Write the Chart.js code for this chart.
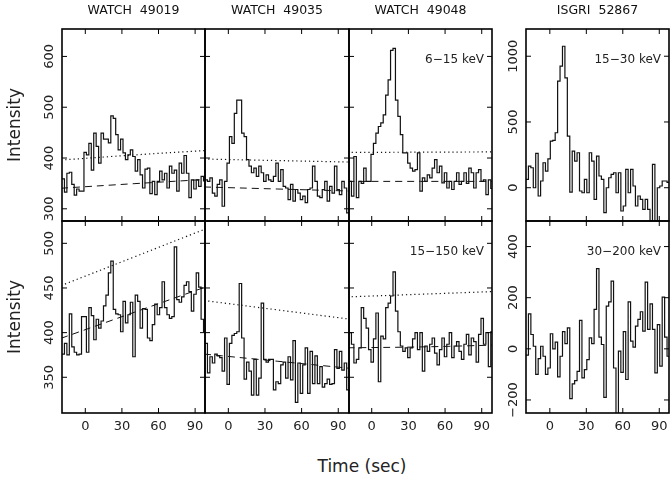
<!DOCTYPE html>
<html>
<head>
<meta charset="utf-8">
<script src="https://cdn.jsdelivr.net/npm/chart.js@4.4.0/dist/chart.umd.min.js"></script>
<style>
  html, body { margin: 0; padding: 0; background: #fff; }
  #page { position: relative; width: 670px; height: 483px; overflow: hidden; background: #fff; }
  .panel { position: absolute; }
  #xlabel { position: absolute; left: 262px; width: 200px; top: 456px; text-align: center;
            font: 17px "DejaVu Sans", sans-serif; color: #222; }
</style>
</head>
<body>
<div id="page">
  <div id="xlabel">Time (sec)</div>
</div>
<script>
/* light curves, 2 s bins */
const BIN = 2;

// 6-15 keV (WATCH) and 15-30 keV (ISGRI)
const w49019_lo = [359,333,370,372,348,327,339,335,335,411,406,429,376,449,423,390,449,437,437,430,
  483,478,446,416,437,410,397,406,416,403,374,397,367,341,378,380,330,354,328,354,
  374,357,370,341,384,370,376,335,390,370,405,370,322,357,339,357,344,364,355];
const w49035_lo = [357,354,361,331,325,348,357,305,354,390,442,429,488,514,514,449,442,397,384,371,
  380,364,384,371,354,367,357,354,364,390,354,377,344,341,318,348,315,338,331,318,
  325,312,338,341,384,354,325,322,338,354,315,344,331,384,338,328,354,341,292];
const w49048_lo = [354,325,403,322,354,350,380,354,354,407,429,449,462,469,485,524,554,612,616,514,
  482,446,410,410,390,380,374,377,410,335,361,354,367,361,380,397,371,384,351,371,
  341,354,338,354,371,348,354,371,350,380,371,341,371,377,354,357,328,357,340];
const isgri_lo = [63,165,152,0,261,-63,51,190,127,220,354,360,418,810,924,1076,835,392,-33,278,
  203,266,-25,-38,63,-38,266,203,-89,240,89,63,-190,0,76,101,114,-38,114,-177,
  -139,139,-38,139,13,-139,-63,-89,-165,-89,-165,-253,177,-253,0,13,51,51,40];

// 15-150 keV (WATCH) and 30-200 keV (ISGRI)
const w49019_hi = [376,388,375,421,384,378,375,376,418,418,378,428,419,392,415,405,413,430,442,467,
  480,426,421,420,401,435,411,420,434,373,442,435,405,427,426,394,391,409,432,420,
  428,457,428,420,416,418,496,437,434,440,453,457,446,424,443,467,451,415,401];
const w49035_hi = [388,355,373,366,376,374,372,357,394,342,388,397,399,401,455,394,348,367,357,330,
  370,330,349,433,370,367,370,370,336,345,343,364,367,349,373,347,391,322,366,332,
  364,383,332,379,343,374,343,362,339,343,348,342,343,381,360,379,358,366,336];
const w49048_hi = [400,387,366,370,383,428,416,405,381,367,393,422,345,396,393,428,433,441,468,424,
  401,385,379,383,372,383,393,400,381,400,357,385,379,387,394,377,364,381,394,373,
  387,400,372,385,390,379,370,387,398,375,394,390,367,398,416,387,400,362,401];
const isgri_hi = [-25,137,56,10,-100,-38,10,-29,-100,-75,59,0,26,-110,-29,67,20,82,-195,-137,
  -124,-88,111,-114,-81,-42,43,20,154,314,46,17,-190,167,184,265,-75,-270,-9,-92,
  67,-120,184,30,7,89,115,145,69,261,76,176,76,-94,95,-68,202,46,-29];

// background (dashed) and threshold (dotted) curves, sampled at curveT
const curveT = [-20, 40, 100];
const dash49019_lo = [340.5, 349.5, 358];
const dot49019_lo  = [396, 406, 415];
const dash49035_lo = [343, 339, 335];
const dot49035_lo  = [398, 395, 392];
const dash49048_lo = [354, 354, 354];
const dot49048_lo  = [411, 411.5, 412];
const dash49019_hi = [393.6, 422.7, 451.8];
const dot49019_hi  = [452.6, 484.7, 516.9];
const dash49035_hi = [376, 368, 360];
const dot49035_hi  = [436, 425.5, 415];
const dash49048_hi = [383, 384, 386];
const dot49048_hi  = [440, 443, 446];

const titles = ['WATCH  49019', 'WATCH  49035', 'WATCH  49048', 'ISGRI  52867'];
const bandTop = ['', '', '6\u221215 keV', '15\u221230 keV'];
const bandBottom = ['', '', '15\u2212150 keV', '30\u2212200 keV'];

// tick values
const xTicks = [0, 30, 60, 90];
const yTicksTop = [300, 400, 500, 600];
const yTicksBottom = [350, 400, 450, 500];
const yTicksIsgriTop = [0, 500, 1000];
const yTicksIsgriBottom = [-200, 0, 200, 400];

// axis ranges
const xMin = [-19.1, -19.1, -18.6, -19.6];
const xMax = [98.1, 98.8, 98.4, 98.0];
const yTop = [276, 654], yBottom = [310, 525];
const yIsgriTop = [-253, 1207], yIsgriBottom = [-251, 500];

// panel layout in page pixels
const colL = [62, 205, 349, 526], colR = [205, 349, 492, 669];
const rowT = [29, 221], rowB = [221, 413];

Chart.defaults.font.family = '"DejaVu Sans", sans-serif';
Chart.defaults.color = '#222';

const TICK_FONT = {size: 13};
const minus = v => String(v).replace('-', '\u2212');

function labelWidth(labels) {
  const c = document.createElement('canvas').getContext('2d');
  c.font = '13px "DejaVu Sans"';
  return Math.max(...labels.map(s => c.measureText(s).width));
}

function steps(values, start) {
  const pts = values.map((v, i) => ({x: start + i * BIN, y: v}));
  pts.push({x: start + values.length * BIN, y: values[values.length - 1]});
  return pts;
}
function curve(values) {
  return values.map((v, i) => ({x: curveT[i], y: v}));
}

const framePlugin = {
  id: 'frame',
  afterDatasetsDraw(chart, args, opts) {
    const {ctx, chartArea: a, scales: {x, y}} = chart;
    ctx.save();
    ctx.strokeStyle = '#000';
    ctx.lineWidth = 1.6;
    ctx.strokeRect(a.left, a.top, a.right - a.left, a.bottom - a.top);
    ctx.lineWidth = 1;
    ctx.beginPath();
    x.ticks.forEach(t => {
      const px = x.getPixelForValue(t.value);
      ctx.moveTo(px, a.top); ctx.lineTo(px, a.top + 5);
      ctx.moveTo(px, a.bottom); ctx.lineTo(px, a.bottom - 5);
    });
    y.ticks.forEach(t => {
      const py = y.getPixelForValue(t.value);
      ctx.moveTo(a.left, py); ctx.lineTo(a.left + 5, py);
      ctx.moveTo(a.right, py); ctx.lineTo(a.right - 5, py);
    });
    ctx.stroke();
    if (opts.band) {
      ctx.font = '12px "DejaVu Sans"';
      ctx.fillStyle = '#222';
      ctx.textAlign = 'right';
      ctx.textBaseline = 'middle';
      ctx.fillText(opts.band, a.right - 8, a.top + 31);
    }
    ctx.restore();
  }
};

const page = document.getElementById('page');

const panels = [
  {row: 0, col: 0, hist: w49019_lo, dash: dash49019_lo, dot: dot49019_lo, yr: yTop, yt: yTicksTop},
  {row: 0, col: 1, hist: w49035_lo, dash: dash49035_lo, dot: dot49035_lo, yr: yTop, yt: yTicksTop},
  {row: 0, col: 2, hist: w49048_lo, dash: dash49048_lo, dot: dot49048_lo, yr: yTop, yt: yTicksTop},
  {row: 0, col: 3, hist: isgri_lo, yr: yIsgriTop, yt: yTicksIsgriTop},
  {row: 1, col: 0, hist: w49019_hi, dash: dash49019_hi, dot: dot49019_hi, yr: yBottom, yt: yTicksBottom},
  {row: 1, col: 1, hist: w49035_hi, dash: dash49035_hi, dot: dot49035_hi, yr: yBottom, yt: yTicksBottom},
  {row: 1, col: 2, hist: w49048_hi, dash: dash49048_hi, dot: dot49048_hi, yr: yBottom, yt: yTicksBottom},
  {row: 1, col: 3, hist: isgri_hi, yr: yIsgriBottom, yt: yTicksIsgriBottom}
];

panels.forEach(p => {
  const L = colL[p.col], R = colR[p.col], T = rowT[p.row], B = rowB[p.row];
  const showY = p.col === 0 || p.col === 3;
  const showX = p.row === 1;
  const ml = p.col === 0 ? L : (p.col === 3 ? 26 : 10);
  const mt = p.row === 0 ? T : 10;
  const mb = showX ? 30 : 10;
  const mr = 10;

  const div = document.createElement('div');
  div.className = 'panel';
  div.style.left = (L - ml) + 'px';
  div.style.top = (T - mt) + 'px';
  div.style.width = (R - L + ml + mr) + 'px';
  div.style.height = (B - T + mt + mb) + 'px';
  const cv = document.createElement('canvas');
  div.appendChild(cv);
  page.appendChild(div);

  // centre the rotated y labels 12.5 px left of the axis
  const yPad = 12.5 - labelWidth(p.yt.map(minus)) / 2;

  const datasets = [{
    data: steps(p.hist, xMin[p.col]),
    stepped: true, borderColor: '#111', borderWidth: 1.2, pointRadius: 0, fill: false, clip: 0
  }];
  if (p.dash) {
    datasets.push({data: curve(p.dash), borderColor: '#111', borderWidth: 1, borderDash: [7, 5],
      tension: 0.4, pointRadius: 0, fill: false, clip: 0});
    datasets.push({data: curve(p.dot), borderColor: '#111', borderWidth: 1.2, borderDash: [1.2, 3],
      tension: 0.4, pointRadius: 0, fill: false, clip: 0});
  }

  new Chart(cv, {
    type: 'line',
    data: {datasets},
    options: {
      responsive: true,
      maintainAspectRatio: false,
      animation: false,
      events: [],
      layout: {padding: {left: showY ? 0 : ml, right: mr, top: p.row === 0 ? 0 : mt, bottom: showX ? 0 : mb}},
      scales: {
        x: {
          type: 'linear', min: xMin[p.col], max: xMax[p.col],
          display: showX,
          border: {display: false},
          grid: {display: false, drawTicks: false},
          afterBuildTicks: s => { s.ticks = xTicks.map(v => ({value: v})); },
          ticks: {autoSkip: false, maxRotation: 0,
                  padding: 5.5, font: TICK_FONT, color: '#222', callback: v => minus(v)},
          afterFit: s => { if (showX) s.height = 30; }
        },
        y: {
          type: 'linear', min: p.yr[0], max: p.yr[1],
          display: showY,
          border: {display: false},
          grid: {display: false, drawTicks: false},
          afterBuildTicks: s => { s.ticks = p.yt.map(v => ({value: v})); },
          ticks: {autoSkip: false, minRotation: 90, maxRotation: 90, crossAlign: 'center',
                  padding: yPad, font: TICK_FONT, color: '#222', callback: v => minus(v)},
          title: {display: p.col === 0, text: 'Intensity', color: '#222',
                  font: {size: 17}, padding: {top: 5, bottom: 0}},
          afterFit: s => { if (showY) s.width = ml; }
        }
      },
      plugins: {
        legend: {display: false},
        tooltip: {enabled: false},
        title: {display: p.row === 0, text: titles[p.col], fullSize: false, color: '#111',
                font: {size: 12.5, weight: 'normal'}, padding: {top: 3, bottom: 11}},
        frame: {band: p.row === 0 ? bandTop[p.col] : bandBottom[p.col]}
      }
    },
    plugins: [framePlugin]
  });
});
</script>
</body>
</html>
